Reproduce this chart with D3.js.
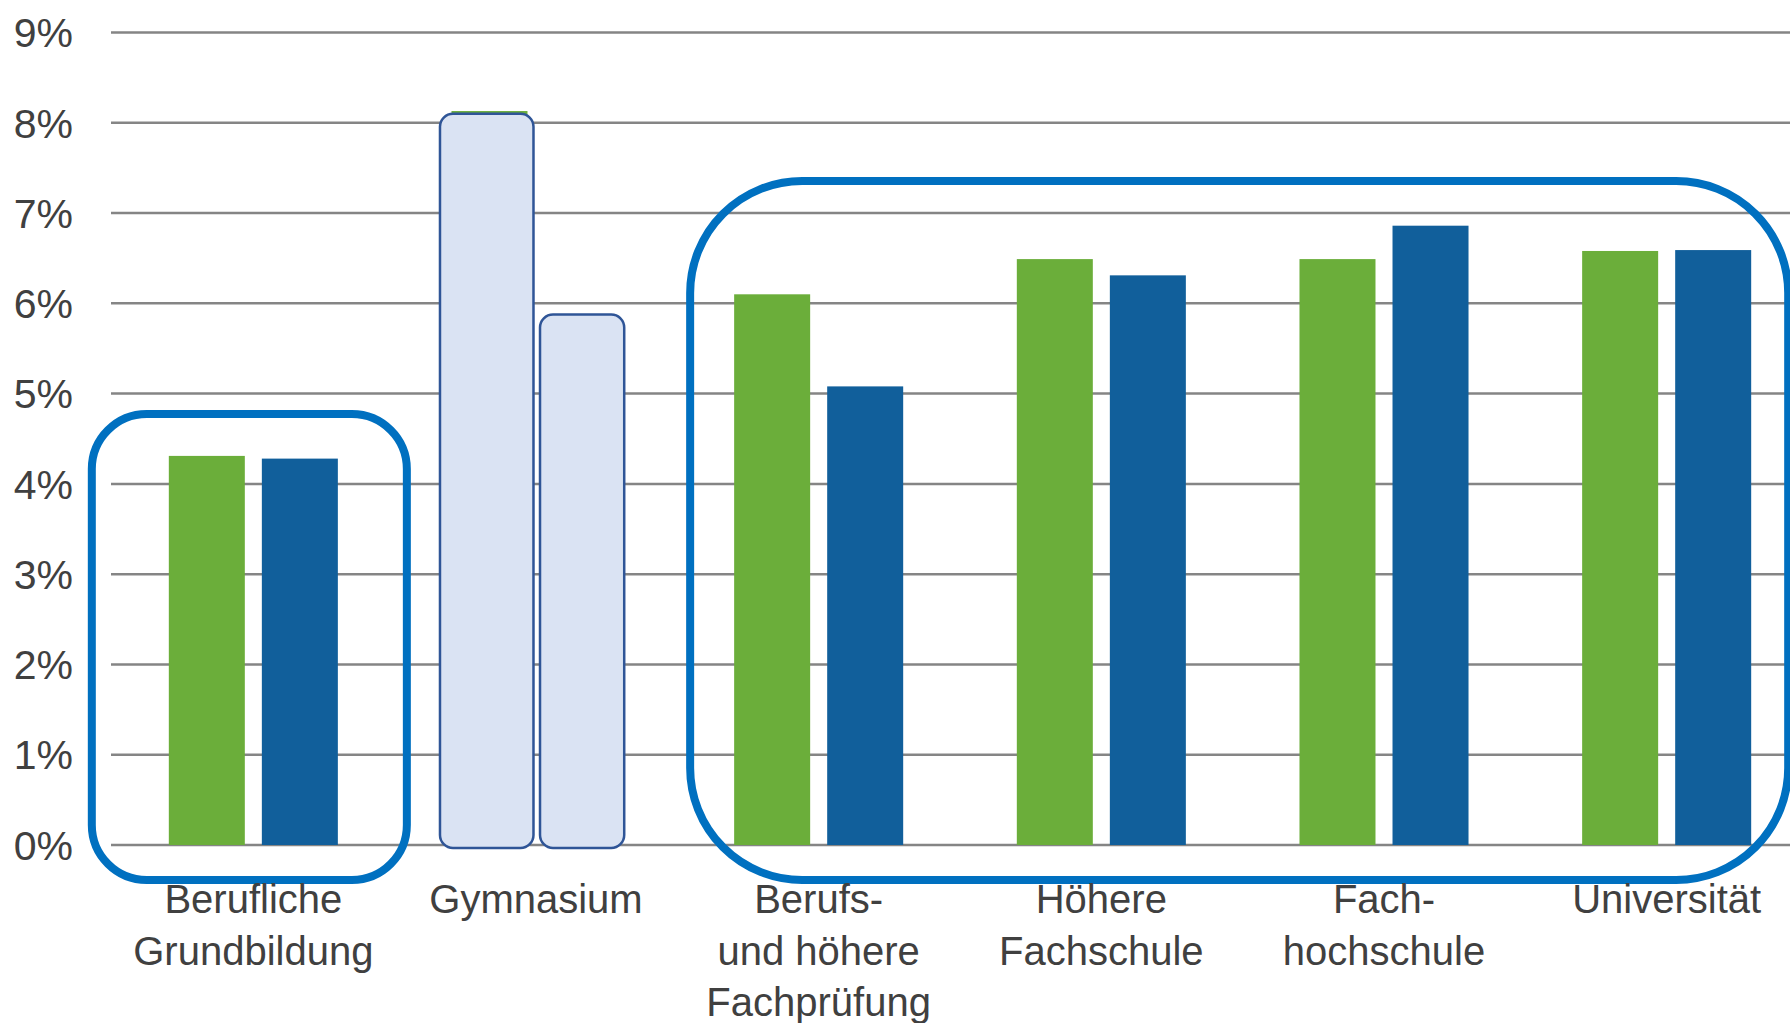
<!DOCTYPE html>
<html>
<head>
<meta charset="utf-8">
<script src="https://cdn.jsdelivr.net/npm/d3@7"></script>
<style>
  body { margin: 0; background: #fff; }
  svg { display: block; }
</style>
</head>
<body>
<script>
// data
const categories = ["Berufliche Grundbildung", "Gymnasium", "Berufs- und höhere Fachprüfung", "Höhere Fachschule", "Fachhochschule", "Universität"]
const labelLines = [["Berufliche", "Grundbildung"], ["Gymnasium"], ["Berufs-", "und höhere", "Fachprüfung"], ["Höhere", "Fachschule"], ["Fach-", "hochschule"], ["Universität"]]
const series = ["green", "blue"]
const greenValues = [4.31, 8.13, 6.10, 6.49, 6.49, 6.58]
const blueValues = [4.28, 5.85, 5.08, 6.31, 6.86, 6.59]
const yTicks = [0, 1, 2, 3, 4, 5, 6, 7, 8, 9]

const w = 1790
const h = 1023
const colors = { green: "#6bae3a", blue: "#115f9b" }

const svg = d3.select("body")
              .append("svg")
              .attr("width", w)
              .attr("height", h)

svg.append("rect").attr("width", w).attr("height", h).attr("fill", "#fff")

const y = d3.scaleLinear().domain([0, 9]).range([845, 32.5])

const x0 = d3.scaleBand()
             .domain(categories)
             .range([112, 1808])
             .paddingInner(0.402)
             .paddingOuter(0.201)

const x1 = d3.scaleBand()
             .domain(series)
             .range([0, x0.bandwidth()])
             .paddingInner(0.183)

// gridlines
svg.append("g")
   .selectAll("line")
   .data(yTicks)
   .enter()
   .append("line")
   .attr("x1", 111)
   .attr("x2", w)
   .attr("y1", d => y(d))
   .attr("y2", d => y(d))
   .attr("stroke", "#858585")
   .attr("stroke-width", 2.5)

// y labels
svg.append("g")
   .selectAll("text")
   .data(yTicks)
   .enter()
   .append("text")
   .attr("x", 73)
   .attr("y", d => y(d))
   .attr("dy", "0.36em")
   .attr("text-anchor", "end")
   .attr("fill", "#404040")
   .style("font-family", "'Liberation Sans', Arial, sans-serif")
   .style("font-size", "41px")
   .text(d => d + "%")

// bars
const rows = categories.map((c, i) => ({ cat: c, green: greenValues[i], blue: blueValues[i] }))

const groups = svg.append("g")
   .selectAll("g")
   .data(rows)
   .enter()
   .append("g")
   .attr("transform", d => `translate(${x0(d.cat)},0)`)

groups.selectAll("rect")
   .data(d => series.map(s => ({ key: s, value: d[s] })))
   .enter()
   .append("rect")
   .attr("x", d => x1(d.key))
   .attr("y", d => y(d.value))
   .attr("width", x1.bandwidth())
   .attr("height", d => y(0) - y(d.value))
   .attr("fill", d => colors[d.key])

// light covers over Gymnasium bars
const gx = x0("Gymnasium")
const covers = [
  { key: "green", padL: 11.5, padR: 6, top: 2.8 },
  { key: "blue", padL: 4.5, padR: 3.7, top: -2.3 }
]
svg.append("g")
   .selectAll("rect")
   .data(covers)
   .enter()
   .append("rect")
   .attr("x", d => gx + x1(d.key) - d.padL)
   .attr("y", d => y(rows[1][d.key]) + d.top)
   .attr("width", d => x1.bandwidth() + d.padL + d.padR)
   .attr("height", d => 848 - y(rows[1][d.key]) - d.top)
   .attr("rx", 13)
   .attr("fill", "#dae3f3")
   .attr("stroke", "#2f5597")
   .attr("stroke-width", 2.5)

// highlight boxes
const boxes = [
  { from: 0, to: 0, padL: 77, padR: 69, top: 414, rx: 55 },
  { from: 2, to: 5, padL: 44, padR: 37, top: 181, rx: 112 }
]
svg.append("g")
   .selectAll("rect")
   .data(boxes)
   .enter()
   .append("rect")
   .attr("x", d => x0(categories[d.from]) - d.padL)
   .attr("y", d => d.top)
   .attr("width", d => x0(categories[d.to]) + x0.bandwidth() + d.padR - x0(categories[d.from]) + d.padL)
   .attr("height", d => 880 - d.top)
   .attr("rx", d => d.rx)
   .attr("fill", "none")
   .attr("stroke", "#0070c0")
   .attr("stroke-width", 8)

// category labels
const labels = svg.append("g")
   .selectAll("text")
   .data(categories)
   .enter()
   .append("text")
   .attr("x", d => x0(d) + x0.bandwidth() / 2)
   .attr("y", 913)
   .attr("text-anchor", "middle")
   .attr("fill", "#404040")
   .style("font-family", "'Liberation Sans', Arial, sans-serif")
   .style("font-size", "40px")

labels.selectAll("tspan")
   .data((d, i) => labelLines[i])
   .enter()
   .append("tspan")
   .attr("x", function() { return this.parentNode.getAttribute("x") })
   .attr("dy", (d, i) => i === 0 ? 0 : 51.5)
   .text(d => d)
</script>
</body>
</html>
